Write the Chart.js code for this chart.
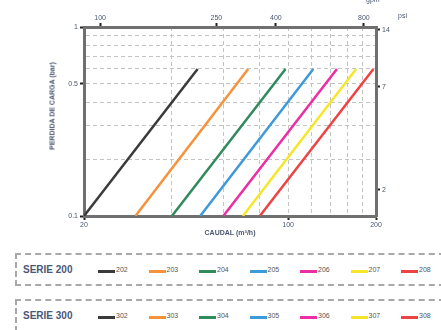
<!DOCTYPE html>
<html>
<head>
<meta charset="utf-8">
<script src="https://cdn.jsdelivr.net/npm/chart.js@4.4.1/dist/chart.umd.min.js"></script>
<style>
  body { margin: 0; background: #fff; width: 441px; height: 330px; overflow: hidden; position: relative; font-family: "Liberation Sans", Arial, sans-serif; }
  #wrap { position: absolute; left: 0; top: 0; width: 441px; height: 245px; }
  .txt { position: absolute; font-size: 7px; color: #4a5670; white-space: nowrap; }
  #ytitle { left: 52px; top: 106px; font-weight: bold; transform: translate(-50%, -50%) rotate(-90deg); }
  .box { position: absolute; left: 15px; width: 440px; height: 33px; border: 2px dashed #a8a8a8; box-sizing: border-box; }
  .serie { position: absolute; left: 6px; top: 9px; font-size: 10px; font-weight: bold; color: #4a5878; }
  .item { position: absolute; top: 15px; height: 3px; width: 17px; }
  .lab { position: absolute; top: 11px; font-size: 7px; color: #555; }
</style>
</head>
<body>
<div id="wrap"><canvas id="myChart" width="441" height="245"></canvas></div>
<div class="txt" id="ytitle">PERDIDA DE CARGA (bar)</div>
<div class="txt" style="left:366px;top:-4px;">gpm</div>
<div class="txt" style="left:398px;top:12px;">psi</div>
<div class="box" id="box200" style="top:253px;"></div>
<div class="box" id="box300" style="top:299px;"></div>
<script>
// modelos y colores
const models200 = ['202', '203', '204', '205', '206', '207', '208'];
const models300 = ['302', '303', '304', '305', '306', '307', '308'];
const colors = ['#3a3a3a', '#f7923c', '#2f8a5c', '#3d9ad8', '#ec2da3', '#f6e62a', '#ef4343'];

// caudal (m3/h) a 0.1 bar y a 0.6 bar
const pressure = [0.1, 0.6];
const flowLow = [20, 30, 40, 50, 60, 70, 80];
const flowHigh = [49, 73, 98, 122, 147, 171, 196];

// ticks
const xGrid = [20, 40, 60, 80, 100, 120, 140, 160, 180, 200];
const xLabels = [20, 100, 200];
const yGrid = [0.1, 0.2, 0.3, 0.4, 0.5, 0.6, 0.7, 0.8, 0.9, 1];
const yLabels = [0.1, 0.5, 1];
const psiTicks = [2, 7, 14];
const gpmTicks = [100, 250, 400, 800];

const M3H_TO_GPM = 4.403;
const BAR_TO_PSI = 14.5;

const font = { size: 7, family: '"Liberation Sans", Arial, sans-serif' };
const tickCol = '#4a5670';

const datasets = models200.map((m, i) => ({
    label: m,
    data: [{ x: flowLow[i], y: pressure[0] }, { x: flowHigh[i], y: pressure[1] }],
    borderColor: colors[i],
    borderWidth: 2.5,
    pointRadius: 0,
    fill: false
}));

function setTicks(values) {
    return scale => { scale.ticks = values.map(v => ({ value: v })); };
}

new Chart(document.getElementById('myChart').getContext('2d'), {
    type: 'line',
    data: { datasets: datasets },
    options: {
        responsive: false,
        animation: false,
        layout: { padding: 0 },
        plugins: { legend: { display: false }, tooltip: { enabled: false } },
        scales: {
            x: {
                type: 'logarithmic', position: 'bottom', min: 20, max: 200,
                afterBuildTicks: setTicks(xGrid),
                afterFit: s => { s.height = 29; },
                ticks: { autoSkip: false, maxRotation: 0, font: font, color: tickCol, padding: 1,
                    callback: v => xLabels.includes(v) ? String(v) : '' },
                grid: {
                    color: c => (c.tick && (c.tick.value === 20 || c.tick.value === 200)) ? 'rgba(0,0,0,0)' : '#c4c4c4',
                    tickColor: c => (c.tick && xLabels.includes(c.tick.value)) ? '#222' : 'rgba(0,0,0,0)',
                    tickLength: 4, lineWidth: 1, tickWidth: 2
                },
                border: { display: true, width: 3, color: '#707070', dash: [4, 3] },
                title: { display: true, text: 'CAUDAL (m³/h)', font: { size: 7, weight: 'bold' }, color: tickCol, padding: { top: 0, bottom: 8 } }
            },
            x2: {
                type: 'logarithmic', position: 'top',
                min: 20 * M3H_TO_GPM, max: 200 * M3H_TO_GPM,
                afterBuildTicks: setTicks(gpmTicks),
                afterFit: s => { s.height = 27; },
                ticks: { autoSkip: false, maxRotation: 0, font: font, color: tickCol, padding: 1, callback: v => String(v) },
                grid: { drawOnChartArea: false, tickColor: '#222', tickLength: 4, tickWidth: 2 },
                border: { display: true, width: 3, color: '#707070' }
            },
            y: {
                type: 'logarithmic', position: 'left', min: 0.1, max: 1,
                afterBuildTicks: setTicks(yGrid),
                afterFit: s => { s.width = 84; },
                ticks: { autoSkip: false, font: font, color: tickCol, padding: 2,
                    callback: v => yLabels.includes(v) ? String(v) : '' },
                grid: {
                    color: c => (c.tick && (c.tick.value === 0.1 || c.tick.value === 1)) ? 'rgba(0,0,0,0)' : '#c4c4c4',
                    tickColor: c => (c.tick && yLabels.includes(c.tick.value)) ? '#222' : 'rgba(0,0,0,0)',
                    tickLength: 4, lineWidth: 1, tickWidth: 2
                },
                border: { display: true, width: 3, color: '#707070', dash: [4, 3] }
            },
            y2: {
                type: 'logarithmic', position: 'right',
                min: 0.1 * BAR_TO_PSI, max: 1 * BAR_TO_PSI,
                afterBuildTicks: setTicks(psiTicks),
                afterFit: s => { s.width = 65; },
                ticks: { autoSkip: false, font: font, color: tickCol, padding: 2, callback: v => String(v) },
                grid: { drawOnChartArea: false, tickColor: '#222', tickLength: 4, tickWidth: 2 },
                border: { display: true, width: 3, color: '#707070' }
            }
        }
    }
});

// leyendas SERIE 200 / SERIE 300
function buildLegend(boxId, title, models) {
    const box = document.getElementById(boxId);
    const t = document.createElement('div');
    t.className = 'serie';
    t.textContent = title;
    box.appendChild(t);
    models.forEach((m, i) => {
        const sw = document.createElement('div');
        sw.className = 'item';
        sw.style.left = (81 + i * 50.5) + 'px';
        sw.style.background = colors[i];
        box.appendChild(sw);
        const l = document.createElement('div');
        l.className = 'lab';
        l.style.left = (99 + i * 50.5) + 'px';
        l.textContent = m;
        box.appendChild(l);
    });
}
buildLegend('box200', 'SERIE 200', models200);
buildLegend('box300', 'SERIE 300', models300);
</script>
</body>
</html>
